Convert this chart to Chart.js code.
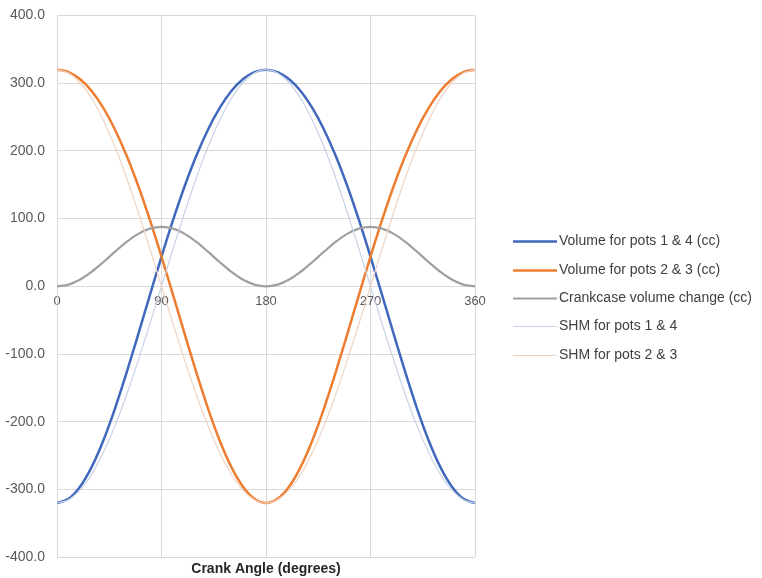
<!DOCTYPE html>
<html>
<head>
<meta charset="utf-8">
<script src="https://cdn.jsdelivr.net/npm/chart.js@4"></script>
<style>
  html, body { margin: 0; padding: 0; background: #fff; }
  #wrap { width: 762px; height: 578px; }
</style>
</head>
<body>
<div id="wrap"><canvas id="myChart" width="762" height="578"></canvas></div>
<script>
// crank angle, degrees
var angles = [0, 10, 20, 30, 40, 50, 60, 70, 80, 90, 100, 110, 120, 130, 140, 150, 160, 170, 180,
  190, 200, 210, 220, 230, 240, 250, 260, 270, 280, 290, 300, 310, 320, 330, 340, 350, 360];

var pots14 = [-320, -313.8, -295.6, -266.3, -227.2, -180.1, -127.2, -70.7, -12.9, 44.0, 98.2, 148.2, 192.8,
  231.3, 263.1, 288.0, 305.8, 316.4, 320, 316.4, 305.8, 288.0, 263.1, 231.3, 192.8, 148.2, 98.2, 44.0,
  -12.9, -70.7, -127.2, -180.1, -227.2, -266.3, -295.6, -313.8, -320];

var pots23 = [320, 316.4, 305.8, 288.0, 263.1, 231.3, 192.8, 148.2, 98.2, 44.0, -12.9, -70.7, -127.2,
  -180.1, -227.2, -266.3, -295.6, -313.8, -320, -313.8, -295.6, -266.3, -227.2, -180.1, -127.2, -70.7,
  -12.9, 44.0, 98.2, 148.2, 192.8, 231.3, 263.1, 288.0, 305.8, 316.4, 320];

var crankcase = [0, 2.6, 10.1, 21.7, 36.0, 51.2, 65.7, 77.5, 85.2, 87.9, 85.2, 77.5, 65.7, 51.2, 36.0, 21.7,
  10.1, 2.6, 0, 2.6, 10.1, 21.7, 36.0, 51.2, 65.7, 77.5, 85.2, 87.9, 85.2, 77.5, 65.7, 51.2, 36.0, 21.7,
  10.1, 2.6, 0];

var shm14 = [-320, -315.1, -300.7, -277.1, -245.1, -205.7, -160, -109.4, -55.6, 0, 55.6, 109.4, 160, 205.7,
  245.1, 277.1, 300.7, 315.1, 320, 315.1, 300.7, 277.1, 245.1, 205.7, 160, 109.4, 55.6, 0, -55.6, -109.4,
  -160, -205.7, -245.1, -277.1, -300.7, -315.1, -320];

var shm23 = [320, 315.1, 300.7, 277.1, 245.1, 205.7, 160, 109.4, 55.6, 0, -55.6, -109.4, -160, -205.7,
  -245.1, -277.1, -300.7, -315.1, -320, -315.1, -300.7, -277.1, -245.1, -205.7, -160, -109.4, -55.6, 0,
  55.6, 109.4, 160, 205.7, 245.1, 277.1, 300.7, 315.1, 320];

var angleTicks = [0, 90, 180, 270, 360];

function pts(arr) {
  return arr.map(function (v, i) { return { x: angles[i], y: v }; });
}

function series(label, arr, color, width) {
  return {
    label: label,
    data: pts(arr),
    borderColor: color,
    backgroundColor: color,
    borderWidth: width,
    pointRadius: 0,
    cubicInterpolationMode: "monotone",
    fill: false,
  };
}

var gridColor = "#d9d9d9";
var tickColor = "#595959";
var fontName = "'Liberation Sans', Arial, sans-serif";

// the built-in legend gets squeezed to half the width, so draw it here
var sideLegend = {
  id: "sideLegend",
  afterDraw: function (chart) {
    var c = chart.ctx;
    var area = chart.chartArea;
    var sets = chart.data.datasets.slice().reverse();
    var x0 = area.right + 38;
    var y0 = (area.top + area.bottom) / 2 - 45;
    c.save();
    c.font = "14px " + fontName;
    c.textBaseline = "middle";
    c.textAlign = "left";
    sets.forEach(function (ds, i) {
      var y = Math.round(y0 + i * 28.3) + 0.5;
      c.strokeStyle = ds.borderColor;
      c.lineWidth = ds.borderWidth;
      c.beginPath();
      c.moveTo(x0, y);
      c.lineTo(x0 + 44, y);
      c.stroke();
      c.fillStyle = "#404040";
      c.fillText(ds.label, x0 + 46, y);
    });
    c.restore();
  },
};

var ctx = document.getElementById("myChart").getContext("2d");

var myChart = new Chart(ctx, {
  type: "line",
  data: {
    datasets: [
      series("SHM for pots 2 & 3", shm23, "#efd3c3", 1.2),
      series("SHM for pots 1 & 4", shm14, "#c8d3e6", 1.2),
      series("Crankcase volume change (cc)", crankcase, "#a0a0a0", 2.2),
      series("Volume for pots 2 & 3 (cc)", pots23, "#ed7d31", 2.5),
      series("Volume for pots 1 & 4 (cc)", pots14, "#4068bd", 2.5),
    ],
  },
  options: {
    responsive: false,
    animation: false,
    layout: {
      padding: { top: 0, left: 0, right: 287, bottom: 0 },
    },
    scales: {
      x: {
        type: "linear",
        min: 0,
        max: 360,
        afterBuildTicks: function (scale) {
          scale.ticks = angleTicks.map(function (v) { return { value: v }; });
        },
        grid: { color: gridColor, drawTicks: false },
        border: { display: false },
        ticks: { display: false },
        title: {
          display: true,
          text: "Crank Angle (degrees)",
          color: "#262626",
          font: { family: fontName, size: 14, weight: "bold" },
          padding: { top: 4, bottom: 0 },
        },
      },
      xa: {
        type: "linear",
        position: { y: 0 },
        min: 0,
        max: 360,
        afterBuildTicks: function (scale) {
          scale.ticks = angleTicks.map(function (v) { return { value: v }; });
        },
        grid: { display: false, drawTicks: false },
        border: { display: false },
        ticks: {
          color: tickColor,
          padding: 7,
          maxRotation: 0,
          font: { family: fontName, size: 13 },
        },
      },
      y: {
        min: -400,
        max: 400,
        afterFit: function (scale) { scale.width = 57; },
        ticks: {
          stepSize: 100,
          color: tickColor,
          padding: 12,
          font: { family: fontName, size: 14, lineHeight: 0.5 },
          callback: function (v) { return v.toFixed(1); },
        },
        grid: { color: gridColor, drawTicks: false },
        border: { color: gridColor },
      },
    },
    plugins: {
      legend: { display: false },
      tooltip: { enabled: false },
    },
  },
  plugins: [sideLegend],
});
</script>
</body>
</html>
